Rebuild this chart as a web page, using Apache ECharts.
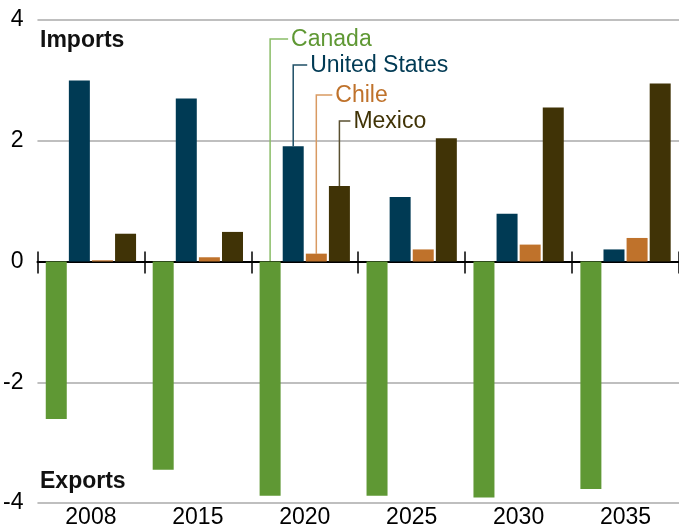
<!DOCTYPE html>
<html>
<head>
<meta charset="utf-8">
<script src="https://cdn.jsdelivr.net/npm/echarts@6/dist/echarts.min.js"></script>
<style>
  html, body { margin: 0; padding: 0; background: #fff; }
  #chart { width: 679px; height: 529px; }
</style>
</head>
<body>
<div id="chart"></div>
<script>
const years = ['2008', '2015', '2020', '2025', '2030', '2035'];
const canada = [-2.61, -3.45, -3.88, -3.88, -3.91, -3.77];
const unitedStates = [3.0, 2.7, 1.91, 1.07, 0.79, 0.2];
const chile = [0.02, 0.07, 0.13, 0.2, 0.28, 0.39];
const mexico = [0.46, 0.49, 1.25, 2.04, 2.55, 2.95];

const FONT = 'Liberation Sans, Arial, sans-serif';
const FS = 23;

// name, values, bar colour, leader line colour, label height and leader length (px)
const countries = [
  { name: 'Canada', data: canada, color: '#5f9834', line: '#8bbd68', labelY: 39, len: 18 },
  { name: 'United States', data: unitedStates, color: '#003a54', line: '#1f4f66', labelY: 65, len: 14 },
  { name: 'Chile', data: chile, color: '#bf722b', line: '#d99a62', labelY: 95, len: 16 },
  { name: 'Mexico', data: mexico, color: '#403306', line: '#5a5030', labelY: 121, len: 11 }
];

const chart = echarts.init(document.getElementById('chart'));

const catAxis = (extra) => Object.assign({
  type: 'category',
  data: years,
  boundaryGap: true,
  axisLabel: { show: false },
  axisTick: { show: false },
  axisLine: { show: false },
  splitLine: { show: false }
}, extra);

chart.setOption({
  animation: false,
  textStyle: { fontFamily: FONT },
  grid: { left: 36, right: -4, top: 20, bottom: 24, containLabel: false },
  xAxis: [
    catAxis({
      position: 'bottom',
      axisLine: { show: false, onZero: false },
      axisLabel: { show: true, fontSize: FS, color: '#000', margin: 3, fontFamily: FONT }
    }),
    catAxis({
      position: 'bottom',
      axisLine: { show: true, onZero: true, onZeroAxisIndex: 0, lineStyle: { color: '#000', width: 2 } },
      axisTick: { show: true, interval: 0, length: 12, lineStyle: { color: '#000', width: 1.5 } }
    }),
    catAxis({
      position: 'top',
      axisLine: { show: true, onZero: true, onZeroAxisIndex: 0, lineStyle: { color: 'rgba(0,0,0,0)', width: 0 } },
      axisTick: { show: true, interval: 0, length: 10, lineStyle: { color: '#000', width: 1.5 } }
    })
  ],
  yAxis: {
    type: 'value',
    min: -4,
    max: 4,
    interval: 2,
    axisLine: { show: false },
    axisTick: { show: false },
    axisLabel: { fontSize: FS, color: '#000', margin: 14, fontFamily: FONT },
    splitLine: { lineStyle: { color: '#aaaaaa', width: 1.5 } }
  },
  series: countries.map(c => ({
    name: c.name,
    type: 'bar',
    xAxisIndex: 0,
    data: c.data,
    barWidth: 21,
    barGap: '10%',
    itemStyle: { color: c.color }
  }))
});

// leader-line labels attached to the 2020 bars, plus Imports / Exports captions
const elements = [
  { type: 'text', left: 40, top: 29, style: { text: 'Imports', font: 'bold ' + FS + 'px ' + FONT, fill: '#111' } },
  { type: 'text', left: 40, top: 470, style: { text: 'Exports', font: 'bold ' + FS + 'px ' + FONT, fill: '#111' } }
];
const idx = years.indexOf('2020');
countries.forEach((c, i) => {
  const layout = chart.getModel().getSeriesByIndex(i).getData().getItemLayout(idx);
  const cx = layout.x + layout.width / 2;
  const top = Math.min(layout.y, layout.y + layout.height);
  elements.push({
    type: 'polyline',
    z: 0,
    shape: { points: [[cx, top], [cx, c.labelY], [cx + c.len, c.labelY]] },
    style: { stroke: c.line, lineWidth: 1.5, fill: null }
  });
  elements.push({
    type: 'text',
    x: cx + c.len + 3,
    y: c.labelY + 1,
    style: { text: c.name, font: FS + 'px ' + FONT, fill: c.color, verticalAlign: 'middle' }
  });
});
chart.setOption({ graphic: { elements } });
</script>
</body>
</html>
